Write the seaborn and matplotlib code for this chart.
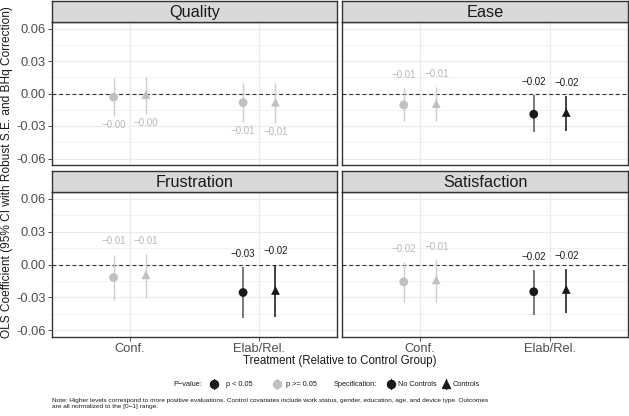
import numpy as np
import pandas as pd
import matplotlib
matplotlib.use("Agg")
import matplotlib.pyplot as plt
from matplotlib.lines import Line2D
import seaborn as sns

# ---------------- data ----------------
outcomes = ["Quality", "Ease", "Frustration", "Satisfaction"]
treatments = ["Conf.", "Elab/Rel."]
specs = ["No Controls", "Controls"]

# order per outcome: (Conf NoCtrl, Conf Ctrl, Elab NoCtrl, Elab Ctrl)
est = {
    "Quality":      [-0.0034, -0.0010, -0.0085, -0.0080],
    "Ease":         [-0.0106, -0.0094, -0.0191, -0.0175],
    "Frustration":  [-0.0118, -0.0094, -0.0255, -0.0236],
    "Satisfaction": [-0.0158, -0.0140, -0.0248, -0.0227],
}
ci_low = {
    "Quality":      [-0.0210, -0.0190, -0.0266, -0.0270],
    "Ease":         [-0.0257, -0.0257, -0.0357, -0.0348],
    "Frustration":  [-0.0320, -0.0305, -0.0487, -0.0478],
    "Satisfaction": [-0.0345, -0.0340, -0.0457, -0.0445],
}
ci_high = {
    "Quality":      [0.0145, 0.0155, 0.0097, 0.0097],
    "Ease":         [0.0052, 0.0057, -0.0018, -0.0025],
    "Frustration":  [0.0088, 0.0094, -0.0024, -0.0003],
    "Satisfaction": [0.0024, 0.0039, -0.0052, -0.0043],
}
significant = {
    "Quality":      [False, False, False, False],
    "Ease":         [False, False, True, True],
    "Frustration":  [False, False, True, True],
    "Satisfaction": [False, False, True, True],
}
label_side = {"Quality": "below", "Ease": "above", "Frustration": "above", "Satisfaction": "above"}

y_ticks = [-0.06, -0.03, 0.00, 0.03, 0.06]
x_title = "Treatment (Relative to Control Group)"
y_title = "OLS Coefficient (95% CI with Robust S.E. and BHq Correction)"
note = ("Note: Higher levels correspond to more positive evaluations. Control covariates include work status, "
        "gender, education, age, and device type. Outcomes\nare all normalized to the [0\u22121] range.")

rows = []
for o in outcomes:
    k = 0
    for t in treatments:
        for s in specs:
            rows.append(dict(outcome=o, treatment=t, spec=s, est=est[o][k],
                             lo=ci_low[o][k], hi=ci_high[o][k],
                             sig="p < 0.05" if significant[o][k] else "p >= 0.05"))
            k += 1
df = pd.DataFrame(rows)
dodge = 0.125
df["x"] = df["treatment"].map({t: i + 1 for i, t in enumerate(treatments)}) + \
    df["spec"].map({"No Controls": -dodge, "Controls": dodge})

# ---------------- style ----------------
sns.set_theme(style="white")
plt.rcParams["font.family"] = ["Liberation Sans", "DejaVu Sans"]
plt.rcParams["axes.unicode_minus"] = True

W, H = 629, 416
fig = plt.figure(figsize=(W / 100, H / 100), dpi=100)

def rect(l, r, t, b):
    return [l / W, 1 - b / H, (r - l) / W, (b - t) / H]

cols = [(52, 337), (342, 628)]
rws = [(22, 165, 1), (192, 337, 171)]

sig_pt = {"p < 0.05": "#1a1a1a", "p >= 0.05": "#c0c0c0"}
err_col = {("p < 0.05", "No Controls"): "#555555", ("p < 0.05", "Controls"): "#111111",
           ("p >= 0.05", "No Controls"): "#cccccc", ("p >= 0.05", "Controls"): "#cccccc"}
lab_col = {"p < 0.05": "#1a1a1a", "p >= 0.05": "#b8b8b8"}
border = "#333333"

for idx, o in enumerate(outcomes):
    r, c = divmod(idx, 2)
    l, rr = cols[c]
    t, b, st = rws[r]
    ax = fig.add_axes(rect(l, rr, t, b))
    sax = fig.add_axes(rect(l, rr, st, t))
    # strip
    sax.set_facecolor("#d9d9d9")
    sax.set_xticks([]); sax.set_yticks([])
    for sp in sax.spines.values():
        sp.set_color(border); sp.set_linewidth(1.0)
    sax.text(0.5, 0.45, o, ha="center", va="center", fontsize=11.7, color="#1a1a1a",
             transform=sax.transAxes)

    d = df[df.outcome == o]
    ax.set_xlim(0.4, 2.6)
    ax.set_ylim(-0.066, 0.066)
    # grid
    for yv in np.arange(-0.06, 0.061, 0.015):
        major = abs(round(yv / 0.03) * 0.03 - yv) < 1e-9
        ax.axhline(yv, color="#ebebeb", lw=0.9 if major else 0.5, zorder=0)
    for xv in [1, 2]:
        ax.axvline(xv, color="#ebebeb", lw=0.9, zorder=0)
    ax.axhline(0, color="#333333", lw=0.8, ls=(0, (3.5, 2.5)), zorder=1)

    for _, rw in d.iterrows():
        ax.vlines(rw.x, rw.lo, rw.hi, color=err_col[(rw.sig, rw.spec)],
                  lw=1.1 if rw.sig == "p < 0.05" else 1.0, zorder=2)
    sns.scatterplot(data=d, x="x", y="est", hue="sig", style="spec",
                    palette=sig_pt, markers={"No Controls": "o", "Controls": "^"},
                    hue_order=["p < 0.05", "p >= 0.05"], style_order=specs,
                    s=40, linewidth=0, legend=False, ax=ax, zorder=3)
    for _, rw in d.iterrows():
        txt = f"{rw.est:.2f}".replace("-", "\u2212")
        if label_side[o] == "above":
            ax.annotate(txt, (rw.x, rw.hi), xytext=(0, 6), textcoords="offset points",
                        ha="center", va="bottom", fontsize=7.0, color=lab_col[rw.sig])
        else:
            ax.annotate(txt, (rw.x, rw.lo), xytext=(0, -3), textcoords="offset points",
                        ha="center", va="top", fontsize=7.0, color=lab_col[rw.sig])

    ax.set_xlabel(""); ax.set_ylabel("")
    ax.set_xticks([1, 2])
    ax.set_yticks(y_ticks)
    if r == 1:
        ax.set_xticklabels(treatments)
    else:
        ax.set_xticklabels([])
        ax.tick_params(axis="x", length=0)
    if c == 0:
        ax.set_yticklabels([f"{v:.2f}" for v in y_ticks])
    else:
        ax.set_yticklabels([])
        ax.tick_params(axis="y", length=0)
    ax.tick_params(axis="both", labelsize=9.3, labelcolor="#4d4d4d", color=border,
                   width=0.6, pad=1.5)
    if r == 1:
        ax.tick_params(axis="x", length=2.8, direction="out", bottom=True)
    if c == 0:
        ax.tick_params(axis="y", length=2.8, direction="out", left=True)
    for sp in ax.spines.values():
        sp.set_color(border); sp.set_linewidth(1.0)
    ax.set_facecolor("white")

fig.text(340 / W, 1 - 361 / H, x_title, ha="center", va="center", fontsize=8.3, color="#1a1a1a")
fig.text(7 / W, 1 - 172 / H, y_title, ha="center", va="center", rotation=90, fontsize=8.6,
         color="#1a1a1a")

# legend (manual)
ly = 1 - 384 / H
def key(xp, color, marker):
    fig.add_artist(Line2D([xp / W, xp / W], [ly - 5 / H, ly + 5 / H], color=color, lw=0.9,
                          transform=fig.transFigure))
    fig.add_artist(Line2D([xp / W], [ly], marker=marker, color=color, markersize=5.8 if marker == "o" else 6.3,
                          lw=0, transform=fig.transFigure))
lfs = 5.3
fig.text(173 / W, ly, "P\u2212value:", ha="left", va="center", fontsize=lfs, color="#1a1a1a")
key(214, "#1a1a1a", "o")
fig.text(226 / W, ly, "p < 0.05", ha="left", va="center", fontsize=lfs, color="#1a1a1a")
key(277, "#c0c0c0", "o")
fig.text(286 / W, ly, "p >= 0.05", ha="left", va="center", fontsize=lfs, color="#1a1a1a")
fig.text(334 / W, ly, "Specification:", ha="left", va="center", fontsize=lfs, color="#1a1a1a")
key(391, "#1a1a1a", "o")
fig.text(398 / W, ly, "No Controls", ha="left", va="center", fontsize=lfs, color="#1a1a1a")
key(446, "#1a1a1a", "^")
fig.text(453 / W, ly, "Controls", ha="left", va="center", fontsize=lfs, color="#1a1a1a")

fig.text(52 / W, 1 - 398 / H, note, ha="left", va="top", fontsize=4.65, color="#1a1a1a",
         linespacing=1.35)

fig.savefig("out.png", dpi=100, facecolor="white")
